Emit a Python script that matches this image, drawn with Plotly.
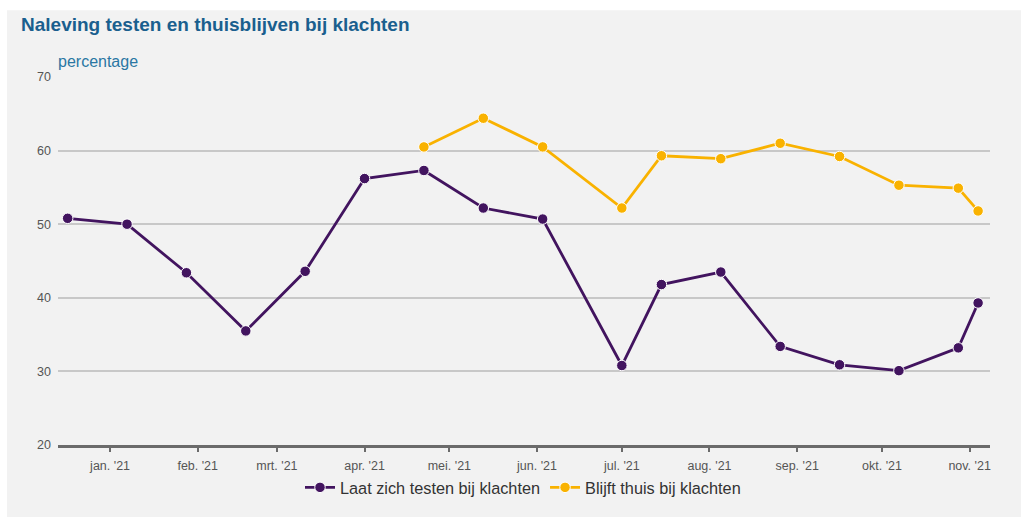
import plotly.graph_objects as go

# ---- data ----
dates = ["2020-12-17", "2021-01-07", "2021-01-28", "2021-02-18", "2021-03-11",
         "2021-04-01", "2021-04-22", "2021-05-13", "2021-06-03", "2021-07-01",
         "2021-07-15", "2021-08-05", "2021-08-26", "2021-09-16", "2021-10-07",
         "2021-10-28", "2021-11-04"]
testen = [50.8, 50.0, 43.4, 35.5, 43.6, 56.2, 57.3, 52.2, 50.7, 30.8,
          41.8, 43.5, 33.4, 30.9, 30.1, 33.2, 39.3]
thuis = [None, None, None, None, None, None, 60.5, 64.4, 60.5, 52.2,
         59.3, 58.9, 61.0, 59.2, 55.3, 54.9, 51.8]
tick_dates = ["2021-01-01", "2021-02-01", "2021-03-01", "2021-04-01", "2021-05-01",
              "2021-06-01", "2021-07-01", "2021-08-01", "2021-09-01", "2021-10-01",
              "2021-11-01"]
tick_labels = ["jan. '21", "feb. '21", "mrt. '21", "apr. '21", "mei. '21",
               "jun. '21", "jul. '21", "aug. '21", "sep. '21", "okt. '21", "nov. '21"]

W, H = 1021, 517
ML, MR, MT, MB = 58, 31, 77, 70
PW, PH = W - ML - MR, H - MT - MB

def px(x):
    return (x - ML) / PW

def py(y):
    return (H - MB - y) / PH

FONT = "Liberation Sans, Arial, sans-serif"
PURPLE = "#42145f"
YELLOW = "#f9b200"

fig = go.Figure()
fig.add_trace(go.Scatter(
    x=dates, y=testen, name="Laat zich testen bij klachten",
    mode="lines+markers",
    line=dict(color=PURPLE, width=2.8),
    marker=dict(color=PURPLE, size=10.5, line=dict(color="white", width=1)),
))
fig.add_trace(go.Scatter(
    x=dates, y=thuis, name="Blijft thuis bij klachten",
    mode="lines+markers",
    line=dict(color=YELLOW, width=2.8),
    marker=dict(color=YELLOW, size=10.5, line=dict(color="white", width=1)),
))

fig.update_layout(
    width=W, height=H,
    margin=dict(l=ML, r=MR, t=MT, b=MB, pad=0),
    paper_bgcolor="#f2f2f2",
    plot_bgcolor="#f2f2f2",
    font=dict(family=FONT, color="#444"),
    showlegend=True,
    legend=dict(orientation="h", x=px(523), xanchor="center", y=py(490), yanchor="middle",
                font=dict(size=16.3, color="#333"), bgcolor="rgba(0,0,0,0)",
                itemwidth=30),
    xaxis=dict(
        type="date",
        range=["2020-12-13 14:00", "2021-11-08 05:00"],
        tickvals=tick_dates, ticktext=tick_labels,
        showgrid=False, zeroline=False,
        showline=True, linecolor="#6b6b6b", linewidth=3,
        ticks="outside", ticklen=4, tickcolor="#6b6b6b", tickwidth=1.5,
        tickfont=dict(size=12.5, color="#555"),
        ticklabelstandoff=3,
        fixedrange=True,
    ),
    yaxis=dict(
        range=[20, 70], tickvals=[20, 30, 40, 50, 60, 70],
        showgrid=True, gridcolor="#c8c8c8", gridwidth=1.5,
        zeroline=False, showline=False,
        ticks="", tickfont=dict(size=12.5, color="#555"),
        ticklabelstandoff=6,
        fixedrange=True,
    ),
    shapes=[
        dict(type="rect", xref="paper", yref="paper",
             x0=px(-5), x1=px(W + 5), y0=py(10), y1=py(-5),
             fillcolor="white", line=dict(width=0), layer="below"),
        dict(type="rect", xref="paper", yref="paper",
             x0=px(-5), x1=px(7), y0=py(H + 5), y1=py(-5),
             fillcolor="white", line=dict(width=0), layer="below"),
    ],
    annotations=[
        dict(text="<b>Naleving testen en thuisblijven bij klachten</b>",
             xref="paper", yref="paper", x=px(19), y=py(24),
             xanchor="left", yanchor="middle", showarrow=False,
             font=dict(size=19, color="#1a5f8e", family=FONT)),
        dict(text="percentage",
             xref="paper", yref="paper", x=px(56), y=py(61),
             xanchor="left", yanchor="middle", showarrow=False,
             font=dict(size=16, color="#2a77a3", family=FONT)),
    ],
)

fig.write_html(
    "out.html",
    config={"displayModeBar": False},
    post_script="document.body.style.margin='0';document.body.style.overflow='hidden';",
)
